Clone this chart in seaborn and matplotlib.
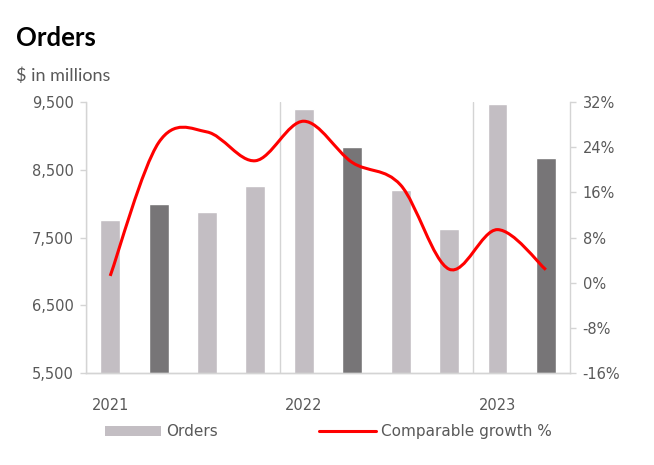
import pandas as pd
import matplotlib.pyplot as plt
import seaborn as sns
import numpy as np
from matplotlib.path import Path
from matplotlib.patches import PathPatch, Patch
from matplotlib.lines import Line2D
from matplotlib.ticker import FuncFormatter

# === DATA ===
quarters = ["Q1 2021", "Q2 2021", "Q3 2021", "Q4 2021",
            "Q1 2022", "Q2 2022", "Q3 2022", "Q4 2022",
            "Q1 2023", "Q2 2023"]
orders = [7760, 8000, 7880, 8265, 9395, 8830, 8205, 7625, 9475, 8680]
growth = [1.2, 24.8, 26.7, 21.6, 28.6, 21.3, 17.3, 2.4, 9.4, 2.3]
highlight = ["other", "Q2", "other", "other", "other", "Q2", "other", "other", "other", "Q2"]
year_labels = ["2021", "2022", "2023"]
year_pos = [0, 4, 8]
year_breaks = [-0.5, 3.5, 7.5]

# === STYLE ===
sns.set_theme(style="white")
plt.rcParams["font.family"] = ["DejaVu Sans"]
light = "#c3bec3"
dark = "#777577"
grid_c = "#d4d4d4"
tc = "#595959"

df = pd.DataFrame({"quarter": quarters, "orders": orders, "kind": highlight})

fig, ax = plt.subplots(figsize=(6.54, 4.65), dpi=100)
fig.subplots_adjust(left=0.1315, right=0.8716, bottom=0.1978, top=0.7806)

sns.barplot(data=df, x="quarter", y="orders", hue="kind",
            palette={"other": light, "Q2": dark}, dodge=False, width=0.41,
            saturation=1, errorbar=None, legend=False, ax=ax)

ax.set_xlim(-0.5, 9.5)
ax.set_ylim(5500, 9500)
ax.set_yticks([5500, 6500, 7500, 8500, 9500])
ax.yaxis.set_major_formatter(FuncFormatter(lambda v, p: f"{v:,.0f}"))
ax.set_xticks(year_breaks)
ax.set_xticklabels([])
ax.set_xticks(year_pos, minor=True)
ax.set_xticklabels(year_labels, minor=True)
ax.set_xlabel("")
ax.set_ylabel("")
ax.grid(axis="x", which="major", color=grid_c, lw=1)
ax.grid(axis="y", visible=False)
ax.tick_params(axis="x", which="major", length=4, width=1, color=grid_c)
ax.tick_params(axis="x", which="minor", length=0, pad=18, labelsize=10.5, labelcolor=tc)
ax.tick_params(axis="y", length=4, width=1, color=grid_c, pad=5, labelsize=10.5,
               labelcolor=tc, left=True)

# --- growth line on secondary axis (smoothed like Excel) ---
ax2 = ax.twinx()
ax2.set_ylim(-16, 32)
ax2.set_yticks(range(-16, 33, 8))
ax2.yaxis.set_major_formatter(FuncFormatter(lambda v, p: f"{v:.0f}%"))
ax2.tick_params(axis="y", length=4, width=1, color=grid_c, pad=5, labelsize=10.5,
                labelcolor=tc, right=True)
ax2.grid(False)


def smooth_path(xs, ys):
    pts = np.column_stack([xs, ys]).astype(float)
    n = len(pts)
    verts = [pts[0]]
    codes = [Path.MOVETO]
    for i in range(n - 1):
        p0 = pts[max(i - 1, 0)]
        p1 = pts[i]
        p2 = pts[i + 1]
        p3 = pts[min(i + 2, n - 1)]
        verts += [p1 + (p2 - p0) / 6, p2 - (p3 - p1) / 6, p2]
        codes += [Path.CURVE4] * 3
    return Path(verts, codes)


ax2.add_patch(PathPatch(smooth_path(np.arange(len(growth)), growth),
                        fill=False, edgecolor="#ff0000", lw=2.2, capstyle="butt"))

for a in (ax, ax2):
    a.spines["top"].set_visible(False)
    for s in ("left", "right", "bottom"):
        a.spines[s].set_color(grid_c)
        a.spines[s].set_linewidth(1)
ax.spines["right"].set_visible(False)
ax2.spines["left"].set_visible(False)

# --- titles ---
fig.text(16 / 654, 1 - 46 / 465, "Orders", fontsize=18.5, fontweight="bold",
         family="Lato", color="black", va="baseline", ha="left")
fig.text(16 / 654, 1 - 81 / 465, "$ in millions", fontsize=13,
         family="Lato", color=tc, va="baseline", ha="left")

# --- legend ---
handles = [Patch(facecolor=light, edgecolor="none"),
           Line2D([0], [0], color="#ff0000", lw=2.2)]
fig.legend(handles, ["Orders", "Comparable growth %"], loc="center left",
           bbox_to_anchor=(0.16, 0.071), ncol=2, frameon=False, fontsize=11,
           handlelength=3.7, handletextpad=0.35, columnspacing=6.6,
           borderpad=0, borderaxespad=0, labelcolor=tc)

plt.savefig("out.png", dpi=100)
plt.close()
